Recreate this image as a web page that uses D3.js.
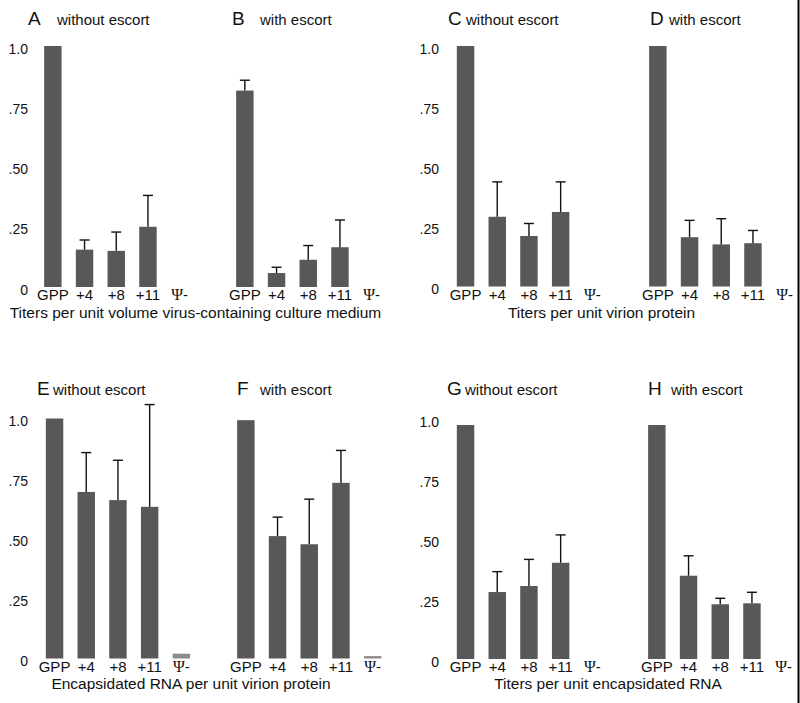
<!DOCTYPE html>
<html>
<head>
<meta charset="utf-8">
<script src="https://cdn.jsdelivr.net/npm/d3@7"></script>
<style>
  html, body { margin: 0; padding: 0; background: #fff; }
  svg { display: block; }
  text { font-family: "Liberation Sans", Arial, Helvetica, sans-serif; fill: #111; }
</style>
</head>
<body>
<script>
// ---------- DATA ----------
const categories = ["GPP", "+4", "+8", "+11", "Ψ-"];
const tickValues = [0, 0.25, 0.5, 0.75, 1.0];
const tickLabels = ["0", ".25", ".50", ".75", "1.0"];

const panelLetters = ["A", "B", "C", "D", "E", "F", "G", "H"];
const panelSubtitles = ["without escort", "with escort", "without escort", "with escort",
                        "without escort", "with escort", "without escort", "with escort"];
const axisTitles = ["Titers per unit volume virus-containing culture medium",
                    "Titers per unit virion protein",
                    "Encapsidated RNA per unit virion protein",
                    "Titers per unit encapsidated RNA"];

// bar values (null = no bar)
const valuesA = [1.0, 0.155, 0.15, 0.25, null];
const valuesB = [0.815, 0.058, 0.113, 0.165, null];
const valuesC = [1.0, 0.29, 0.21, 0.31, null];
const valuesD = [1.0, 0.205, 0.175, 0.18, null];
const valuesE = [1.0, 0.694, 0.66, 0.632, 0.02];
const valuesF = [0.993, 0.51, 0.476, 0.732, 0.01];
const valuesG = [0.975, 0.279, 0.304, 0.401, null];
const valuesH = [0.975, 0.347, 0.228, 0.232, null];

// upper end of error bars (null = none)
const errA = [null, 0.195, 0.228, 0.38, null];
const errB = [0.858, 0.082, 0.172, 0.278, null];
const errC = [null, 0.435, 0.262, 0.435, null];
const errD = [null, 0.275, 0.282, 0.233, null];
const errE = [null, 0.858, 0.826, 1.058, null];
const errF = [null, 0.589, 0.664, 0.867, null];
const errG = [null, 0.364, 0.415, 0.517, null];
const errH = [null, 0.43, 0.253, 0.278, null];

const allValues = [valuesA, valuesB, valuesC, valuesD, valuesE, valuesF, valuesG, valuesH];
const allErr = [errA, errB, errC, errD, errE, errF, errG, errH];

// ---------- LAYOUT ----------
const W = 800, H = 703;
const STEP = 31.7;
const panelLayout = [
  { x: 37,    y0: 287,   y1: 46 },
  { x: 229,   y0: 287,   y1: 46 },
  { x: 449.7, y0: 286.5, y1: 46 },
  { x: 642,   y0: 286.5, y1: 46 },
  { x: 38.7,  y0: 658.5, y1: 418.5 },
  { x: 230,   y0: 658.5, y1: 418.5 },
  { x: 449.7, y0: 659,   y1: 419 },
  { x: 641,   y0: 659,   y1: 419 }
];
const titleLayout = [
  { lx: 28,  sx: 57,  y: 25 },
  { lx: 232, sx: 260, y: 25 },
  { lx: 448, sx: 466, y: 25 },
  { lx: 650, sx: 669, y: 25 },
  { lx: 37,  sx: 53,  y: 395 },
  { lx: 237, sx: 260, y: 395 },
  { lx: 447, sx: 465, y: 395 },
  { lx: 648, sx: 671, y: 395 }
];
const yAxisLayout = [
  { x: 28,  y0: 287,   y1: 46 },
  { x: 439, y0: 286.5, y1: 46 },
  { x: 28,  y0: 658.5, y1: 418.5 },
  { x: 439, y0: 659,   y1: 419 }
];
const axisTitleLayout = [
  { x: 195.5, y: 318 },
  { x: 601.5, y: 318 },
  { x: 191,   y: 689 },
  { x: 608,   y: 689 }
];

const svg = d3.select("body").append("svg")
  .attr("width", W).attr("height", H);

svg.append("rect").attr("width", W).attr("height", H).attr("fill", "#fff");

// panels
panelLayout.forEach((L, i) => {
  const x = d3.scaleBand().domain(categories)
    .range([L.x, L.x + STEP * categories.length])
    .paddingInner(0.45).paddingOuter(0.225);
  const y = d3.scaleLinear().domain([0, 1]).range([L.y0, L.y1]);
  const g = svg.append("g");
  const rows = categories.map((c, k) => ({ c, v: allValues[i][k], e: allErr[i][k] }));

  g.selectAll("rect.bar").data(rows.filter(d => d.v != null)).join("rect")
    .attr("class", "bar")
    .attr("x", d => x(d.c))
    .attr("width", x.bandwidth())
    .attr("y", d => y(d.v))
    .attr("height", d => Math.max(2, y(0) - y(d.v)))
    .attr("fill", d => d.c === "Ψ-" ? "#8c8c8c" : "#585858");

  const eb = g.selectAll("g.err").data(rows.filter(d => d.e != null)).join("g").attr("class", "err");
  eb.append("line")
    .attr("x1", d => x(d.c) + x.bandwidth() / 2).attr("x2", d => x(d.c) + x.bandwidth() / 2)
    .attr("y1", d => y(d.v)).attr("y2", d => y(d.e))
    .attr("stroke", "#111").attr("stroke-width", 1.4);
  eb.append("line")
    .attr("x1", d => x(d.c) + x.bandwidth() / 2 - 5).attr("x2", d => x(d.c) + x.bandwidth() / 2 + 5)
    .attr("y1", d => y(d.e)).attr("y2", d => y(d.e))
    .attr("stroke", "#111").attr("stroke-width", 1.4);

  const ax = g.append("g").attr("transform", `translate(0,${L.y0})`)
    .call(d3.axisBottom(x).tickSize(0).tickPadding(0));
  ax.select(".domain").remove();
  ax.selectAll(".tick text")
    .attr("y", 13).attr("dy", 0)
    .style("font-size", "15px")
    .attr("fill", "#111")
    .each(function (d) {
      if (d === "Ψ-") {
        const t = d3.select(this);
        t.text(null);
        t.append("tspan").style("font-family", "'Liberation Serif', 'Times New Roman', serif")
          .style("font-size", "16px").text("Ψ");
        t.append("tspan").text("-");
      }
    });

  const T = titleLayout[i];
  svg.append("text").attr("x", T.lx).attr("y", T.y)
    .style("font-size", "19px").text(panelLetters[i]);
  svg.append("text").attr("x", T.sx).attr("y", T.y)
    .style("font-size", "15px").text(panelSubtitles[i]);
});

// y axes (shared by panel pairs)
yAxisLayout.forEach(L => {
  const y = d3.scaleLinear().domain([0, 1]).range([L.y0, L.y1]);
  const ay = svg.append("g").attr("transform", `translate(${L.x},0)`)
    .call(d3.axisLeft(y).tickValues(tickValues).tickSize(0).tickPadding(0)
      .tickFormat((d, k) => tickLabels[k]));
  ay.select(".domain").remove();
  ay.selectAll(".tick text").style("font-size", "14px").attr("fill", "#111")
    .attr("dy", "0.65em").attr("y", -2);
});

// axis titles
axisTitleLayout.forEach((L, k) => {
  svg.append("text").attr("x", L.x).attr("y", L.y).attr("text-anchor", "middle")
    .style("font-size", "15.5px").text(axisTitles[k]);
});

// right border line
svg.append("line").attr("x1", 798.5).attr("x2", 798.5).attr("y1", 0).attr("y2", H)
  .attr("stroke", "#000").attr("stroke-width", 2);
</script>
</body>
</html>
